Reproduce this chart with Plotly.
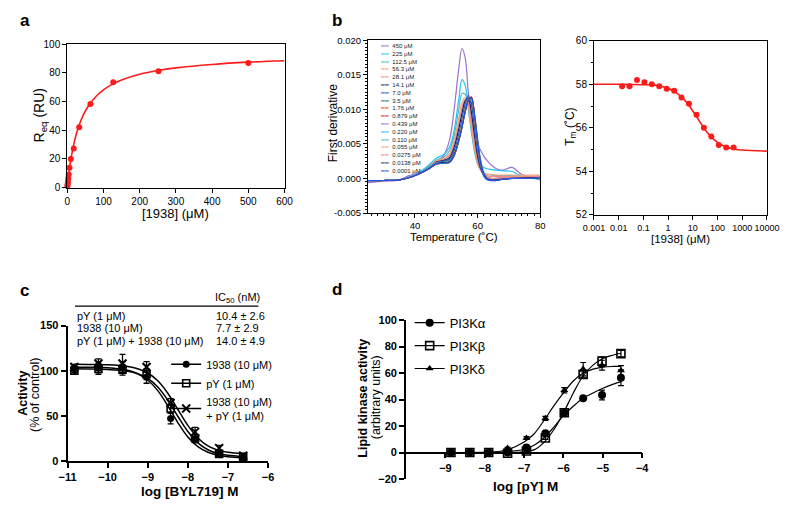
import plotly.graph_objects as go

W, H = 800, 510
def px(x): return x / W
def py(y): return 1 - y / H

FONT = "Liberation Sans, Arial, sans-serif"
RED = "#ff1a1a"

# ---------------- Panel a: SPR equilibrium binding ----------------
a_conc = [0.5, 1.0, 1.8, 2.8, 4.0, 6.3, 9.9, 17.9, 33, 64, 127, 252, 500]
a_req = [1.2, 2.3, 4.1, 6.4, 9.1, 13.9, 20.0, 27.3, 42.0, 58.2, 73.4, 81.1, 86.8]
a_fit_x = [0, 2, 5, 10, 20, 30, 45, 60, 80, 100, 125, 150, 200, 250, 300, 400, 500, 600]
a_fit_y = [0, 4.7, 10.9, 19.6, 32.4, 41.5, 51.0, 57.6, 63.7, 68.1, 72.1, 75.0, 79.0, 81.6, 83.4, 85.8, 87.4, 88.4]

# ---------------- Panel b (left): first derivative melt curves ----------------
b_temp = [25, 30, 35, 38, 41, 44, 47, 49, 51, 52.5, 54, 55, 56, 57, 58, 59, 60, 61, 62, 63, 64, 66, 68, 71, 74, 80]
b_labels = ["450 μM", "225 μM", "112.5 μM", "56.3 μM", "28.1 μM", "14.1 μM", "7.0 μM", "3.5 μM",
            "1.76 μM", "0.879 μM", "0.439 μM", "0.220 μM", "0.110 μM", "0.055 μM", "0.0275 μM",
            "0.0138 μM", "0.0001 μM"]
# first derivative values in units of 0.001
d450 = [-0.6, -0.4, -0.2, 0.4, 0.8, 1.6, 2.6, 3.2, 5.5, 10.0, 16.0, 18.8, 17.5, 12.5, 8.5, 6.5, 5.0, 4.0, 3.2, 2.6, 2.1, 1.4, 1.2, 1.6, 0.6, -0.2]
d225 = [-0.4, -0.3, -0.2, 0.2, 0.8, 1.8, 3.0, 3.4, 4.5, 7.0, 11.5, 14.3, 13.5, 10.5, 7.0, 4.3, 2.8, 2.0, 1.6, 1.4, 1.3, 1.2, 1.1, 1.0, 0.3, -0.1]
d112 = [-0.3, -0.3, -0.2, 0.2, 0.7, 1.6, 2.7, 3.0, 4.0, 6.2, 10.0, 12.3, 12.2, 10.0, 6.8, 3.8, 2.0, 1.2, 0.8, 0.6, 0.5, 0.4, 0.4, 0.4, 0.3, 0.1]
d56 = [-0.3, -0.3, -0.2, 0.1, 0.6, 1.5, 2.6, 2.8, 3.6, 5.5, 8.8, 11.0, 11.7, 10.4, 7.5, 4.3, 2.2, 1.2, 0.8, 0.6, 0.6, 0.5, 0.5, 0.5, 0.5, 0.5]
d28 = [-0.3, -0.3, -0.2, 0.1, 0.6, 1.4, 2.5, 2.7, 3.3, 5.0, 8.0, 10.2, 11.4, 10.8, 8.2, 5.0, 2.6, 1.2, 0.6, 0.4, 0.3, 0.3, 0.3, 0.3, 0.3, 0.3]
d14 = [-0.3, -0.3, -0.2, 0.1, 0.6, 1.4, 2.4, 2.6, 3.0, 4.5, 7.2, 9.4, 11.2, 11.6, 9.6, 6.2, 3.2, 1.4, 0.5, 0.1, 0.0, 0.0, 0.1, 0.1, 0.1, 0.1]
d7 = [-0.3, -0.3, -0.2, 0.1, 0.6, 1.4, 2.3, 2.5, 2.8, 4.0, 6.5, 8.6, 10.8, 12.0, 10.6, 7.2, 3.8, 1.5, 0.3, -0.2, -0.3, -0.3, -0.1, 0.0, 0.0, 0.1]
d3_5 = [-0.3, -0.3, -0.2, 0.1, 0.6, 1.3, 2.3, 2.4, 2.7, 3.8, 6.2, 8.2, 10.4, 11.6, 11.0, 7.8, 4.2, 1.8, 0.5, 0.0, -0.2, -0.2, -0.1, 0.0, 0.0, 0.1]
d1_76 = [-0.3, -0.3, -0.2, 0.1, 0.6, 1.3, 2.2, 2.3, 2.5, 3.5, 5.8, 7.8, 10.0, 11.4, 11.3, 8.5, 4.8, 2.0, 0.6, 0.1, -0.1, -0.1, 0.0, 0.1, 0.1, 0.2]
d0_879 = [-0.3, -0.3, -0.2, 0.1, 0.6, 1.3, 2.1, 2.2, 2.3, 3.3, 5.5, 7.4, 9.6, 11.3, 11.8, 9.2, 5.4, 2.3, 0.7, 0.1, -0.1, -0.1, 0.0, 0.1, 0.2, 0.3]
d0_439 = [-0.4, -0.3, -0.2, 0.1, 0.6, 1.3, 2.2, 2.2, 2.4, 3.4, 5.6, 7.5, 9.7, 11.3, 11.6, 9.0, 5.2, 2.2, 0.7, 0.1, -0.1, -0.1, 0.0, 0.1, 0.1, 0.2]
d0_220 = [-0.3, -0.3, -0.2, 0.1, 0.6, 1.4, 2.3, 2.3, 2.5, 3.5, 5.8, 7.8, 10.0, 11.4, 11.5, 9.3, 5.8, 2.6, 0.9, 0.2, 0.0, -0.1, 0.0, 0.1, 0.1, 0.2]
d0_110 = [-0.3, -0.3, -0.2, 0.1, 0.6, 1.3, 2.2, 2.2, 2.3, 3.3, 5.5, 7.4, 9.6, 11.2, 11.5, 9.0, 5.3, 2.2, 0.7, 0.1, -0.1, -0.1, 0.0, 0.1, 0.1, 0.2]
d0_055 = [-0.3, -0.3, -0.2, 0.1, 0.6, 1.3, 2.2, 2.3, 2.4, 3.4, 5.6, 7.6, 9.8, 11.3, 11.6, 9.1, 5.3, 2.2, 0.7, 0.2, 0.0, 0.0, 0.1, 0.2, 0.3, 0.4]
d0_0275 = [-0.3, -0.3, -0.2, 0.1, 0.6, 1.3, 2.2, 2.3, 2.4, 3.4, 5.7, 7.6, 9.8, 11.3, 11.5, 9.0, 5.2, 2.2, 0.7, 0.2, 0.0, 0.0, 0.1, 0.2, 0.2, 0.3]
d0_0138 = [-0.3, -0.3, -0.2, 0.1, 0.6, 1.3, 2.2, 2.3, 2.4, 3.4, 5.6, 7.5, 9.7, 11.3, 11.7, 9.1, 5.3, 2.2, 0.6, 0.0, -0.2, -0.2, -0.1, 0.0, 0.1, 0.1]
d0_0001 = [-0.3, -0.3, -0.2, 0.1, 0.6, 1.3, 2.1, 2.2, 2.3, 3.3, 5.5, 7.4, 9.6, 11.2, 11.6, 9.1, 5.3, 2.2, 0.6, 0.0, -0.2, -0.3, -0.1, 0.0, 0.0, 0.1]
b_series = [d450, d225, d112, d56, d28, d14, d7, d3_5, d1_76, d0_879, d0_439, d0_220,
            d0_110, d0_055, d0_0275, d0_0138, d0_0001]
b_colors = ["#9b72cf", "#1ec3f2", "#4cbcc6", "#f5a67a", "#f08a8a", "#1c1a4e", "#2155e6", "#1e7272",
            "#f0501e", "#e61e1e", "#9b72cf", "#1ec3f2", "#4cbcc6", "#f5a67a", "#f08a8a", "#3c2e5e", "#2155e6"]
b_ytickvals = [-5, 0, 5, 10, 15, 20]
b_yticktext = ["-0.005", "0.000", "0.005", "0.010", "0.015", "0.020"]

# ---------------- Panel b (right): Tm vs concentration ----------------
tm_conc = [0.0138, 0.0275, 0.055, 0.110, 0.220, 0.439, 0.879, 1.76, 3.5, 7.0, 14.1, 28.1, 56.3, 112.5, 225, 450]
tm_vals = [57.91, 57.91, 58.19, 58.09, 58.0, 57.91, 57.79, 57.70, 57.39, 57.10, 56.6, 56.0, 55.6, 55.21, 55.1, 55.1]
tm_fit_x = [0.001, 0.01, 0.1, 0.3, 1, 2, 4, 7, 10, 15, 20, 30, 50, 100, 200, 500, 1000, 10000]
tm_fit_y = [58.0, 58.0, 57.98, 57.95, 57.81, 57.64, 57.35, 57.02, 56.77, 56.47, 56.25, 55.95, 55.64, 55.33, 55.14, 55.02, 54.98, 54.93]
tm_tickvals = [0.001, 0.01, 0.1, 1, 10, 100, 1000, 10000]
tm_ticktext = ["0.001", "0.01", "0.1", "1", "10", "100", "1000", "10000"]

# ---------------- Panel c: BYL719 inhibition ----------------
c_logx = [-10.83, -10.23, -9.63, -9.03, -8.43, -7.82, -7.22, -6.62]
c_1938 = [102, 105, 104, 93, 47, 23, 7, 3]
c_1938_err = [4, 5, 6, 7, 6, 3, 2, 1.5]
c_py = [100, 102, 101, 96, 58, 25, 7.6, 4]
c_py_err = [4, 6, 6, 6, 5, 4, 2, 1.5]
c_combo = [104, 108, 108, 104, 64, 32, 14, 5.5]
c_combo_err = [3, 5, 10, 6, 5, 5, 3, 3]
c_fit_x = [-10.83, -10.5, -10.0, -9.5, -9.25, -9.0, -8.75, -8.5, -8.25, -8.0, -7.75, -7.5, -7.25, -7.0, -6.62]
c_fit_1938 = [103.9, 103.8, 103.2, 100.4, 96.6, 89.6, 77.8, 61.0, 42.3, 26.4, 15.6, 9.4, 6.1, 4.5, 3.5]
c_fit_py = [102.0, 101.9, 101.4, 99.4, 96.6, 91.3, 81.8, 67.2, 49.4, 32.4, 19.8, 12.2, 8.0, 6.0, 4.6]
c_fit_combo = [107.0, 106.9, 106.5, 104.7, 102.2, 97.4, 88.7, 74.9, 57.0, 39.2, 25.3, 16.6, 11.8, 9.3, 7.8]
c_names = ["1938 (10 μM)", "pY (1 μM)", "1938 (10 μM)<br>+ pY (1 μM)"]
c_table_rows = ["pY (1 μM)", "1938 (10 μM)", "pY (1 μM) + 1938 (10 μM)"]
c_table_ic50 = ["10.4 ± 2.6", "7.7 ± 2.9", "14.0 ± 4.9"]

# ---------------- Panel d: lipid kinase activity ----------------
d_logx = [-8.86, -8.38, -7.9, -7.42, -6.94, -6.46, -5.98, -5.5, -5.02, -4.54]
d_alpha = [0, 0, 0, 0, 3.7, 14.5, 30, 41, 43.5, 56.5]
d_alpha_err = [0.5, 0.5, 0.5, 0.5, 1, 1, 1, 1.5, 3.7, 6]
d_beta = [0, 0, 0, -0.5, 1.2, 11, 30, 59, 69, 74.7]
d_beta_err = [0.5, 0.5, 0.5, 0.5, 0.5, 1, 1.5, 2, 3, 2.5]
d_delta = [0, 0, 0, 3.4, 11, 25.8, 47, 63, 66, 62]
d_delta_err = [0.5, 0.5, 0.5, 0.5, 1, 1.5, 2, 5, 3.7, 3.7]
d_fit_x = [-8.86, -8.0, -7.5, -7.0, -6.75, -6.5, -6.25, -6.0, -5.75, -5.5, -5.25, -5.0, -4.75, -4.54]
d_fit_alpha = [0, 0.1, 0.5, 2.5, 5.5, 11, 19, 28, 35, 41, 45, 48.5, 51.5, 53.5]
d_fit_beta = [0, 0, 0, 0.5, 2, 7.5, 17, 30, 45, 58, 66, 71, 73.5, 75]
d_fit_delta = [0, 0.2, 1.5, 8, 14, 24, 35, 45, 54, 60, 63, 64.5, 65, 65]
d_names = ["PI3Kα", "PI3Kβ", "PI3Kδ"]

fig = go.Figure()

# ---- a ----
fig.add_trace(go.Scatter(x=a_fit_x, y=a_fit_y, mode="lines", line=dict(color=RED, width=1.6, shape="spline"),
                         xaxis="x", yaxis="y", showlegend=False))
fig.add_trace(go.Scatter(x=a_conc, y=a_req, mode="markers", marker=dict(color=RED, size=6),
                         xaxis="x", yaxis="y", showlegend=False, cliponaxis=False))

# ---- b left ----
for vals, col in zip(b_series, b_colors):
    fig.add_trace(go.Scatter(x=b_temp, y=vals, mode="lines", line=dict(color=col, width=1.2, shape="spline"),
                             xaxis="x2", yaxis="y2", showlegend=False))

# ---- b right ----
fig.add_trace(go.Scatter(x=tm_fit_x, y=tm_fit_y, mode="lines", line=dict(color=RED, width=1.6, shape="spline"),
                         xaxis="x3", yaxis="y3", showlegend=False))
fig.add_trace(go.Scatter(x=tm_conc, y=tm_vals, mode="markers", marker=dict(color=RED, size=6),
                         xaxis="x3", yaxis="y3", showlegend=False))

# ---- c ----
c_markers = [dict(symbol="circle", size=7, color="black"),
             dict(symbol="square-open", size=7, color="black", line=dict(width=1.6, color="black")),
             dict(symbol="x-thin-open", size=8, color="black", line=dict(width=2, color="black"))]
for fy, yv, err, mk, nm in zip([c_fit_1938, c_fit_py, c_fit_combo], [c_1938, c_py, c_combo],
                               [c_1938_err, c_py_err, c_combo_err], c_markers, c_names):
    fig.add_trace(go.Scatter(x=c_fit_x, y=fy, mode="lines", line=dict(color="black", width=1.5, shape="spline"),
                             xaxis="x4", yaxis="y4", showlegend=False))
    fig.add_trace(go.Scatter(x=c_logx, y=yv, mode="markers", marker=mk,
                             error_y=dict(type="data", array=err, color="black", thickness=1.3, width=3),
                             xaxis="x4", yaxis="y4", showlegend=False, cliponaxis=False))
    fig.add_trace(go.Scatter(x=[None], y=[None], mode="lines+markers", marker=mk, name=nm,
                             line=dict(color="black", width=1.5), xaxis="x4", yaxis="y4",
                             legend="legend", showlegend=True))

# ---- d ----
d_markers = [dict(symbol="circle", size=8, color="black"),
             dict(symbol="square-open", size=8, color="black", line=dict(width=1.6, color="black")),
             dict(symbol="triangle-up", size=7, color="black")]
for i, (fy, yv, err, mk, nm) in enumerate(zip([d_fit_alpha, d_fit_beta, d_fit_delta], [d_alpha, d_beta, d_delta],
                                             [d_alpha_err, d_beta_err, d_delta_err], d_markers, d_names)):
    fig.add_trace(go.Scatter(x=d_fit_x, y=fy, mode="lines", line=dict(color="black", width=1.2, shape="spline"),
                             xaxis="x5", yaxis="y5", showlegend=False))
    fig.add_trace(go.Scatter(x=d_logx, y=yv, mode="markers", marker=mk,
                             error_y=dict(type="data", array=err, color="black", thickness=1.2, width=3),
                             xaxis="x5", yaxis="y5", showlegend=False, cliponaxis=False))
    fig.add_trace(go.Scatter(x=[None], y=[None], mode="lines+markers", marker=mk, name=nm,
                             line=dict(color="black", width=1.2), xaxis="x5", yaxis="y5",
                             legend="legend2", legendgroup="g%d" % i, showlegend=True))

thin = dict(showline=True, linecolor="black", linewidth=1, mirror=True, ticks="outside",
            tickcolor="black", ticklen=4, tickwidth=1, showgrid=False, zeroline=False,
            tickfont=dict(family=FONT, size=10, color="black"))
bold = dict(showline=True, linecolor="black", linewidth=1.8, ticks="outside", tickcolor="black",
            ticklen=5, tickwidth=1.8, showgrid=False, zeroline=False,
            tickfont=dict(family=FONT, size=11, color="black", weight="bold"))

fig.update_layout(
    width=W, height=H, margin=dict(l=0, r=0, t=0, b=0),
    paper_bgcolor="white", plot_bgcolor="white",
    font=dict(family=FONT, color="black"),
    xaxis=dict(thin, domain=[px(58), px(282)], anchor="y", range=[0, 600], dtick=100),
    yaxis=dict(thin, domain=[py(186), py(39)], anchor="x", range=[0, 100], dtick=20),
    xaxis2=dict(thin, domain=[px(368), px(545.7)], anchor="y2", range=[25, 80], tickvals=[40, 60, 80],
                minor=dict(tickmode="linear", tick0=0, dtick=2, ticks="outside", ticklen=2, tickcolor="black"),
                tickfont=dict(family=FONT, size=9.5, color="black")),
    yaxis2=dict(thin, domain=[py(212), py(35)], anchor="x2", range=[-5, 20], tickvals=b_ytickvals,
                ticktext=b_yticktext,
                minor=dict(tickmode="linear", tick0=0, dtick=0.5, ticks="outside", ticklen=2, tickcolor="black"),
                tickfont=dict(family=FONT, size=9.5, color="black")),
    xaxis3=dict(thin, domain=[px(601), px(779.3)], anchor="y3", type="log", range=[-3, 4],
                tickvals=tm_tickvals, ticktext=tm_ticktext, tickangle=0,
                tickfont=dict(family=FONT, size=9, color="black")),
    yaxis3=dict(thin, domain=[py(214), py(35.5)], anchor="x3", range=[52, 60], dtick=2,
                minor=dict(tickmode="linear", tick0=0, dtick=1, ticks="outside", ticklen=2, tickcolor="black")),
    xaxis4=dict(bold, domain=[px(58.3), px(265)], anchor="y4", range=[-11, -6], dtick=1),
    yaxis4=dict(bold, domain=[py(465.7), py(327.3)], anchor="x4", range=[0, 150], dtick=50),
    xaxis5=dict(bold, domain=[px(407.3), px(650.7)], anchor="free", position=py(457.3), range=[-10, -4],
                tickvals=[-9, -8, -7, -6, -5, -4]),
    yaxis5=dict(bold, domain=[py(484.4), py(321.7)], anchor="x5", range=[-20, 100], dtick=20),
    showlegend=True,
    legend=dict(x=px(160), y=py(352), xanchor="left", yanchor="top", bgcolor="rgba(0,0,0,0)",
                font=dict(family=FONT, size=11, color="black"), tracegroupgap=0),
    legend2=dict(x=px(411), y=py(309), xanchor="left", yanchor="top", bgcolor="rgba(0,0,0,0)",
                 font=dict(family=FONT, size=13, color="black"), tracegroupgap=3),
)

ann = []
def text(x, y, s, size=12, bold_=False, angle=0, xanchor="center", yanchor="middle", align="center"):
    ann.append(dict(x=px(x), y=py(y), xref="paper", yref="paper", text=("<b>%s</b>" % s) if bold_ else s,
                    showarrow=False, textangle=angle, xanchor=xanchor, yanchor=yanchor, align=align,
                    font=dict(family=FONT, size=size, color="black")))

# panel letters
text(14, 15, "a", 17, True)
text(336, 15, "b", 17, True)
text(14, 291, "c", 17, True)
text(336, 290, "d", 17, True)

# a titles
text(30, 112, "R<sub>eq</sub> (RU)", 14, angle=-90)
text(170, 212, "[1938] (μM)", 13)
# b titles
text(332, 120, "First derivative", 12, angle=-90)
text(457, 237, "Temperature (˚C)", 11.5)
text(577, 124, "T<sub>m</sub> (˚C)", 12, angle=-90)
text(690, 239, "[1938] (μM)", 11.5)
# b legend
leg_lines = ["<span style='color:%s'>━━</span>  %s" % (c, l) for c, l in zip(b_colors, b_labels)]
ann.append(dict(x=px(378), y=py(35.5), xref="paper", yref="paper", text="<br>".join(leg_lines),
                showarrow=False, xanchor="left", yanchor="top", align="left",
                font=dict(family=FONT, size=6, color="#222")))
# c titles and table
text(12.5, 397, "Activity", 12.5, True, angle=-90)
text(24, 398, "(% of control)", 12.5, angle=-90)
text(185, 497, "log [BYL719] M", 13.5, True)
text(208, 298.7, "IC<sub>50</sub> (nM)", 11, xanchor="left")
for i, (r, v) in enumerate(zip(c_table_rows, c_table_ic50)):
    yy = 317 + i * 12.8
    text(66, yy, r, 11, xanchor="left")
    text(209, yy, v, 11, xanchor="left")
# d titles
text(362, 402, "Lipid kinase activity", 12.5, True, angle=-90)
text(376, 401, "(arbitrary units)", 12.5, angle=-90)
text(530, 492, "log [pY] M", 13.5, True)

fig.update_layout(annotations=ann,
                  shapes=[dict(type="line", xref="paper", yref="paper", x0=px(66), x1=px(255),
                               y0=py(307.3), y1=py(307.3), line=dict(color="black", width=1.3))])

fig.write_html("out.html", config={"displayModeBar": False},
               post_script="document.body.style.margin='0';")
